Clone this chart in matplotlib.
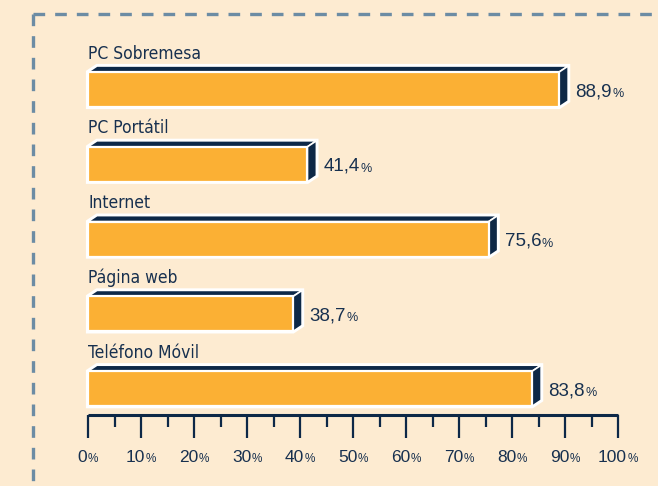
import matplotlib
matplotlib.use("Agg")
import matplotlib.pyplot as plt
from matplotlib.patches import Polygon
from matplotlib.lines import Line2D

# data
categories = ["PC Sobremesa", "PC Portátil", "Internet", "Página web", "Teléfono Móvil"]
values = [88.9, 41.4, 75.6, 38.7, 83.8]
value_labels = ["88,9", "41,4", "75,6", "38,7", "83,8"]
tick_values = [0, 10, 20, 30, 40, 50, 60, 70, 80, 90, 100]
tick_labels = ["0", "10", "20", "30", "40", "50", "60", "70", "80", "90", "100"]

BG = "#fdebd1"
ORANGE = "#fbb034"
NAVY = "#0d2847"
TEXT = "#17304f"
DASH = "#6c8ca4"

W, H = 658, 486
fig = plt.figure(figsize=(W / 100, H / 100), dpi=100)
fig.patch.set_facecolor(BG)

# dashed frame (figure pixel coords)
frame = fig.add_axes([0, 0, 1, 1])
frame.set_xlim(0, W)
frame.set_ylim(H, 0)
frame.axis("off")
frame.add_line(Line2D([33, W], [14, 14], color=DASH, lw=2.4, dashes=(3.5, 3.0)))
frame.add_line(Line2D([33, 33], [14, H], color=DASH, lw=2.4, dashes=(3.5, 3.0)))

# main axes: x in percent, y in pixel rows
x0_px, x1_px, y_axis, y_top = 88, 618, 415, 40
ax = fig.add_axes([x0_px / W, (H - y_axis) / H, (x1_px - x0_px) / W, (y_axis - y_top) / H])
ax.set_xlim(0, 100)
ax.set_ylim(y_axis, y_top)
ax.patch.set_alpha(0)
for s in ["top", "right", "left"]:
    ax.spines[s].set_visible(False)
ax.spines["bottom"].set_color(NAVY)
ax.spines["bottom"].set_linewidth(2.2)
ax.spines["bottom"].set_capstyle("butt")
ax.set_yticks([])
ax.set_xticks(tick_values)
ax.set_xticks([v + 5 for v in tick_values[:-1]], minor=True)
ax.tick_params(axis="x", which="major", direction="out", length=16.5, width=1.6,
               color=NAVY, labelbottom=False)
ax.tick_params(axis="x", which="minor", direction="out", length=8.5, width=1.6,
               color=NAVY)

px = 100 / (x1_px - x0_px)  # percent per pixel
dx = 9 * px
dy = 6
bar_h = 35
first_center, step = 89.5, 74.8

renderer = fig.canvas.get_renderer()

for i, (cat, v, lab) in enumerate(zip(categories, values, value_labels)):
    yc = first_center + i * step
    top, bot = yc - bar_h / 2, yc + bar_h / 2
    # white outline of whole 3D shape
    outline = [(0, top), (dx, top - dy), (v + dx, top - dy), (v + dx, bot - dy),
               (v, bot), (0, bot)]
    ax.add_patch(Polygon(outline, closed=True, facecolor="white", edgecolor="white",
                         lw=3.0, joinstyle="miter", clip_on=False, zorder=2))
    # top face
    ax.add_patch(Polygon([(0, top), (dx, top - dy), (v + dx, top - dy), (v, top)],
                         closed=True, facecolor=NAVY, edgecolor="white", lw=1.2,
                         clip_on=False, zorder=3))
    # side face
    ax.add_patch(Polygon([(v, top), (v + dx, top - dy), (v + dx, bot - dy), (v, bot)],
                         closed=True, facecolor=NAVY, edgecolor="white", lw=1.2,
                         clip_on=False, zorder=3))
    # front face
    ax.barh(yc, v, height=bar_h, left=0, color=ORANGE, edgecolor="white",
            linewidth=1.6, zorder=4, clip_on=False)
    # category label
    ax.text(0, top - 13.5, cat, ha="left", va="baseline", fontsize=12.5, color=TEXT,
            family="DejaVu Sans", fontstretch="condensed", clip_on=False)
    # value label
    t = ax.text(v + dx + 7 * px, yc + 6.5, lab, ha="left", va="baseline",
                fontsize=13.5, color=TEXT, family=["Liberation Sans", "DejaVu Sans"],
                clip_on=False)
    ax.annotate("%", xy=(1, 0), xycoords=t, xytext=(0.5, 0), textcoords="offset points",
                ha="left", va="bottom", fontsize=9, color=TEXT,
                family=["Liberation Sans", "DejaVu Sans"], annotation_clip=False)

# tick labels: number + small percent sign, centred on tick
fs_num, fs_pct = 12.5, 8.5
for tv, tl in zip(tick_values, tick_labels):
    tn = ax.text(tv, 461.5, tl, ha="left", va="baseline", fontsize=fs_num, color=TEXT,
                 family=["Liberation Sans", "DejaVu Sans"], clip_on=False)
    tp = ax.text(tv, 461.5, "%", ha="left", va="baseline", fontsize=fs_pct, color=TEXT,
                 family=["Liberation Sans", "DejaVu Sans"], clip_on=False)
    wn = tn.get_window_extent(renderer).width
    wp = tp.get_window_extent(renderer).width
    total = wn + wp + 0.5
    tn.set_x(tv - total / 2 * px)
    tp.set_x(tv + (wn + 0.5 - total / 2) * px)

fig.savefig("out.png", dpi=100, facecolor=BG)
